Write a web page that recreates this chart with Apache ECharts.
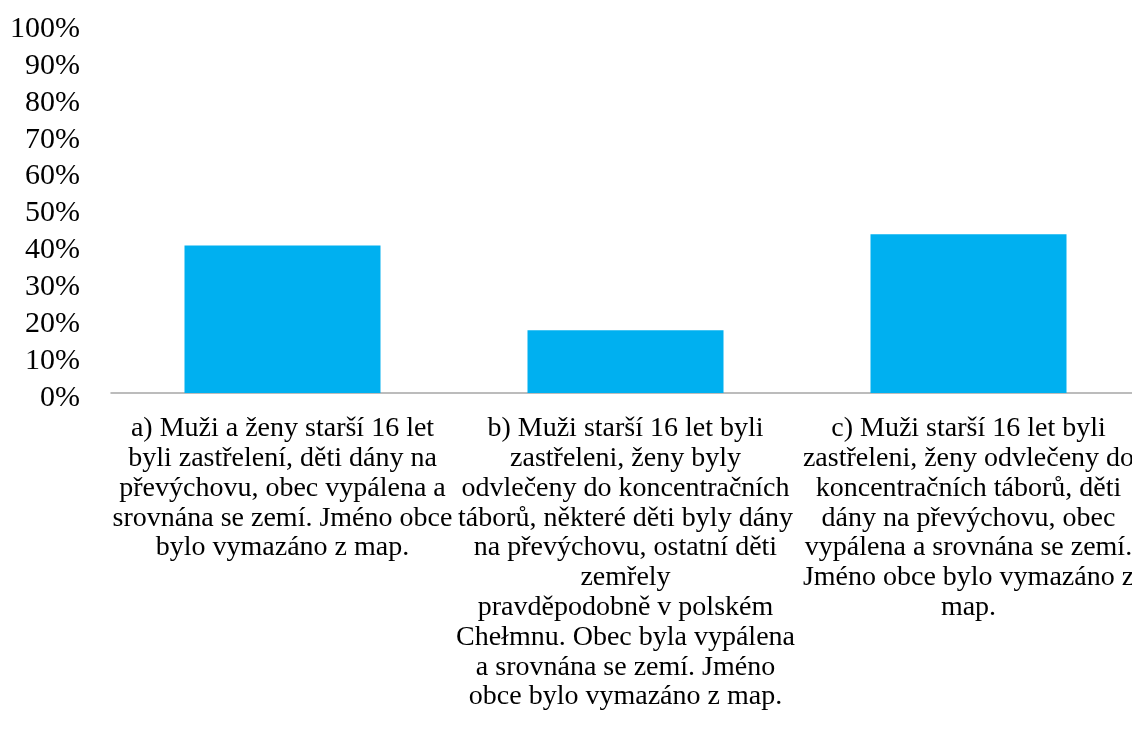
<!DOCTYPE html>
<html>
<head>
<meta charset="utf-8">
<title>Chart</title>
<script src="https://cdn.jsdelivr.net/npm/echarts@6/dist/echarts.min.js"></script>
<style>
    html, body { margin: 0; padding: 0; background: #fff; overflow: hidden; }
    /* plocha grafu přesahuje okno o pár px, jako v originálu */
    #chart { width: 1140px; height: 731px; }
</style>
</head>
<body>
<div id="chart"></div>
<script>
// popisky kategorií (zalomené jako v originálu)
const categories = [
    'a) Muži a ženy starší 16 let\nbyli zastřelení, děti dány na\npřevýchovu, obec vypálena a\nsrovnána se zemí. Jméno obce\nbylo vymazáno z map.',
    'b) Muži starší 16 let byli\nzastřeleni, ženy byly\nodvlečeny do koncentračních\ntáborů, některé děti byly dány\nna převýchovu, ostatní děti\nzemřely\npravděpodobně v polském\nChełmnu. Obec byla vypálena\na srovnána se zemí. Jméno\nobce bylo vymazáno z map.',
    'c) Muži starší 16 let byli\nzastřeleni, ženy odvlečeny do\nkoncentračních táborů, děti\ndány na převýchovu, obec\nvypálena a srovnána se zemí.\nJméno obce bylo vymazáno z\nmap.'
];
const values = [40, 17, 43];
const yTicks = [0, 10, 20, 30, 40, 50, 60, 70, 80, 90, 100];

const font = "'Liberation Serif', 'Times New Roman', serif";

const chart = echarts.init(document.getElementById('chart'));

chart.setOption({
    animation: false,
    grid: { left: 111, top: 24, right: 0, height: 369 },
    xAxis: {
        type: 'category',
        data: categories,
        axisLine: { lineStyle: { color: '#a6a6a6', width: 1.5 } },
        axisTick: { show: false },
        axisLabel: {
            interval: 0,
            margin: 21,
            color: '#000',
            fontFamily: font,
            fontSize: 28,
            lineHeight: 29.8,
            align: 'center'
        }
    },
    yAxis: {
        type: 'value',
        min: yTicks[0],
        max: yTicks[yTicks.length - 1],
        interval: 10,
        axisLine: { show: false },
        axisTick: { show: false },
        splitLine: { show: false },
        axisLabel: {
            margin: 31,
            formatter: v => '{t|' + v + '%}',
            rich: {
                // popisky os sedí v originálu o kousek níž než značka
                t: {
                    color: '#000',
                    fontFamily: font,
                    fontSize: 30,
                    padding: [10, 0, 0, 0]
                }
            }
        }
    },
    series: [{
        type: 'bar',
        data: values,
        barWidth: 196,
        itemStyle: { color: '#00b0f0' }
    }]
});
</script>
</body>
</html>
